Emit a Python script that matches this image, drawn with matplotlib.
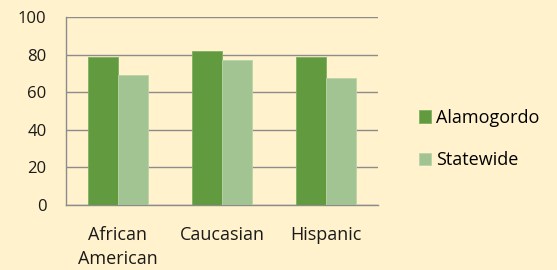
import matplotlib.pyplot as plt
import numpy as np

# donnees
categories = ['African\nAmerican', 'Caucasian', 'Hispanic']
alamogordo = [79, 82, 78.5]
statewide = [69, 77, 67.5]
yticks = [0, 20, 40, 60, 80, 100]

fond = '#FFF2CC'
vert_fonce = '#629A3F'
vert_clair = '#A2C492'
gris = '#8C8C8C'

plt.rcParams['font.family'] = ['Open Sans', 'DejaVu Sans']

fig = plt.figure(figsize=(5.57, 2.70), dpi=100, facecolor=fond)
ax = fig.add_axes([0.1185, 0.2407, 0.56, 0.696])
ax.set_facecolor(fond)

x = np.arange(len(categories))
w = 0.29
ax.bar(x - w/2, alamogordo, w, color=vert_fonce, edgecolor='#7FB060', linewidth=0.6, label='Alamogordo', zorder=3)
ax.bar(x + w/2, statewide, w, color=vert_clair, edgecolor='#B8D4A8', linewidth=0.6, label='Statewide', zorder=3)

ax.set_xlim(-0.5, len(categories) - 0.5)
ax.set_ylim(0, 100)
ax.set_yticks(yticks)
ax.set_xticks(x)
ax.set_xticklabels(categories, fontsize=13, color='#1A1A1A', linespacing=1.45)
ax.tick_params(axis='y', length=0, pad=14, labelsize=12, labelcolor='#1A1A1A')
ax.tick_params(axis='x', length=0, pad=15)
ax.yaxis.grid(True, color=gris, linewidth=1.0, zorder=0)

for s in ['top', 'right']:
    ax.spines[s].set_visible(False)
ax.spines['left'].set_color(gris)
ax.spines['bottom'].set_color(gris)
ax.spines['left'].set_linewidth(1.0)
ax.spines['bottom'].set_linewidth(1.0)

leg = fig.legend(loc='center left', bbox_to_anchor=(0.752, 0.485), frameon=False,
                 fontsize=13, handlelength=0.66, handleheight=0.66, handletextpad=0.3,
                 labelspacing=1.35, borderpad=0, borderaxespad=0)

plt.savefig('out.png', dpi=100, facecolor=fond)
